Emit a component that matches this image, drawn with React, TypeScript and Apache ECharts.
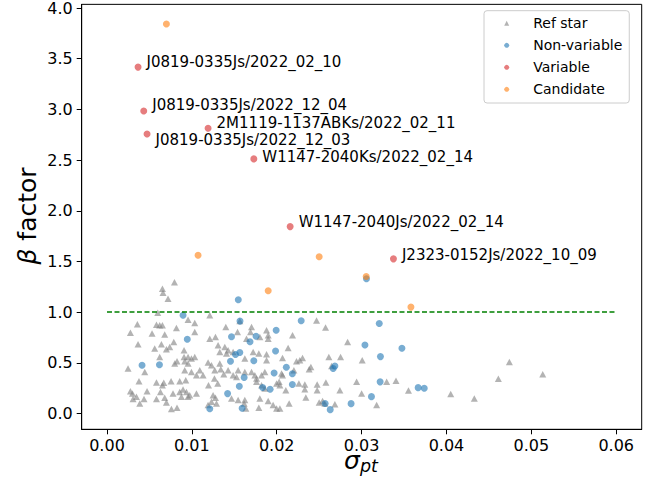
import React, { useEffect, useRef } from "react";
import * as echarts from "echarts";

// Tick positions shown on each axis
const xTicks = [0, 0.01, 0.02, 0.03, 0.04, 0.05, 0.06];
const yTicks = [0, 0.5, 1.0, 1.5, 2.0, 2.5, 3.0, 3.5, 4.0];

// Reference stars: [sigma_pt, beta]
const refStars: number[][] = [
  [0.00795, 1.296], [0.00653, 1.231], [0.0066, 1.192], [0.00719, 1.133], [0.00598, 0.995],
  [0.00358, 0.88], [0.00276, 0.798], [0.00583, 0.877], [0.00621, 0.87], [0.00653, 0.87],
  [0.00531, 0.789], [0.0068, 0.779], [0.00818, 0.844], [0.00366, 0.683], [0.00562, 0.641],
  [0.00641, 0.683], [0.007, 0.634], [0.00739, 0.657], [0.00787, 0.706], [0.00908, 0.624],
  [0.00621, 0.559], [0.00798, 0.494], [0.00825, 0.516], [0.00908, 0.559], [0.00916, 0.516],
  [0.00248, 0.444], [0.00445, 0.411], [0.00916, 0.428], [0.00377, 0.32], [0.00583, 0.307],
  [0.00669, 0.303], [0.00653, 0.28], [0.00755, 0.32], [0.00857, 0.32], [0.00928, 0.329],
  [0.00276, 0.221], [0.003, 0.199], [0.00307, 0.143], [0.00347, 0.165], [0.00386, 0.1],
  [0.00436, 0.143], [0.00472, 0.221], [0.00583, 0.143], [0.0063, 0.214], [0.0068, 0.155],
  [0.007, 0.11], [0.00759, 0.044], [0.00825, 0.057], [0.00778, 0.199], [0.00857, 0.214],
  [0.00896, 0.238], [0.00936, 0.214], [0.00877, 0.165], [0.00955, 0.165],
  [0.01211, 0.969], [0.01034, 0.893], [0.00955, 0.926], [0.01034, 0.804], [0.014, 0.853],
  [0.01565, 0.912], [0.01703, 0.853], [0.01691, 0.804], [0.0188, 0.821], [0.01899, 0.772],
  [0.01899, 0.739], [0.01538, 0.804], [0.01211, 0.739], [0.01278, 0.755], [0.01309, 0.674],
  [0.01388, 0.657], [0.01427, 0.624], [0.01408, 0.592], [0.01486, 0.608], [0.01329, 0.608],
  [0.01644, 0.739], [0.01722, 0.608], [0.01789, 0.592], [0.0188, 0.585], [0.0188, 0.526],
  [0.00955, 0.559], [0.00995, 0.543], [0.01034, 0.559], [0.00955, 0.494], [0.01191, 0.503],
  [0.01231, 0.477], [0.01329, 0.494], [0.01341, 0.438], [0.01093, 0.428], [0.01132, 0.379],
  [0.00995, 0.411], [0.01054, 0.379], [0.01427, 0.428], [0.01486, 0.379], [0.01545, 0.428],
  [0.01624, 0.411], [0.01703, 0.411], [0.01742, 0.379], [0.01762, 0.346], [0.01821, 0.379],
  [0.02057, 0.395], [0.02028, 0.313], [0.00975, 0.182], [0.01054, 0.199], [0.0125, 0.182],
  [0.01278, 0.155], [0.01231, 0.116], [0.01467, 0.149], [0.01624, 0.133], [0.01616, 0.1],
  [0.01801, 0.149], [0.01789, 0.057], [0.01899, 0.123], [0.01957, 0.084], [0.01998, 0.051],
  [0.01191, 0.084], [0.01266, 0.346], [0.01305, 0.297], [0.01196, 0.28], [0.01526, 0.362],
  [0.0186, 0.411], [0.01998, 0.297], [0.01762, 0.313], [0.01821, 0.28], [0.0186, 0.248],
  [0.01636, 0.051], [0.01545, 0.133], [0.0129, 0.1], [0.01376, 0.388], [0.0127, 0.428],
  [0.01801, 0.755], [0.01624, 0.543],
  [0.02469, 0.919], [0.02575, 0.848], [0.02186, 0.772], [0.02134, 0.647], [0.02835, 0.706],
  [0.02068, 0.549], [0.02233, 0.516], [0.02272, 0.526], [0.02304, 0.549], [0.02614, 0.559],
  [0.02752, 0.559], [0.02402, 0.46], [0.02382, 0.438], [0.02646, 0.47], [0.03007, 0.526],
  [0.02068, 0.379], [0.02202, 0.428], [0.02037, 0.28], [0.02261, 0.297], [0.02331, 0.287],
  [0.02331, 0.241], [0.02107, 0.231], [0.02476, 0.287], [0.02476, 0.231], [0.02579, 0.307],
  [0.02744, 0.231], [0.02941, 0.313], [0.03, 0.199], [0.02343, 0.159], [0.02146, 0.1],
  [0.025, 0.11], [0.0254, 0.123], [0.02567, 0.1], [0.02685, 0.093], [0.03177, 0.084],
  [0.02037, 0.051],
  [0.03295, 0.313], [0.03405, 0.324], [0.03552, 0.228], [0.0405, 0.192], [0.04328, 0.149],
  [0.04611, 0.344], [0.04741, 0.509], [0.05134, 0.388],
];

// Targets judged non-variable
const nonVariable: number[][] = [
  [0.00413, 0.477], [0.00618, 0.482], [0.00896, 0.969], [0.00946, 0.733], [0.01547, 1.123],
  [0.01567, 0.912], [0.01467, 0.757], [0.01685, 0.708], [0.01756, 0.762], [0.01993, 0.821],
  [0.01986, 0.617], [0.01565, 0.602], [0.01514, 0.583], [0.01455, 0.516], [0.0173, 0.521],
  [0.01969, 0.401], [0.01616, 0.356], [0.01559, 0.27], [0.01834, 0.258], [0.01922, 0.24],
  [0.01421, 0.197], [0.01211, 0.047], [0.01592, 0.052], [0.02288, 0.916], [0.02113, 0.457],
  [0.02184, 0.393], [0.02184, 0.287], [0.0257, 0.1], [0.0263, 0.039], [0.02876, 0.098],
  [0.03116, 0.167], [0.03208, 0.888], [0.03039, 0.677], [0.03222, 0.562], [0.03475, 0.644],
  [0.03218, 0.313], [0.03666, 0.256], [0.03738, 0.249], [0.03057, 1.33], [0.02685, 0.47],
  [0.02665, 0.444],
];

// Variable targets and their names
const variablePoints: number[][] = [
  [0.00366, 3.417], [0.00433, 2.984], [0.00472, 2.758], [0.01191, 2.814],
  [0.0173, 2.512], [0.02158, 1.844], [0.03375, 1.526],
];
const variableNames = [
  "J0819-0335Js/2022_02_10",
  "J0819-0335Js/2022_12_04",
  "J0819-0335Js/2022_12_03",
  "2M1119-1137ABKs/2022_02_11",
  "W1147-2040Ks/2022_02_14",
  "W1147-2040Js/2022_02_14",
  "J2323-0152Js/2022_10_09",
];
// vertical nudge of each name relative to its point
const variableLabelDy = [-5, -6, 6, -5, -2, -5, -4];

// Candidate variables
const candidates: number[][] = [
  [0.007, 3.843], [0.01073, 1.561], [0.01899, 1.211], [0.025, 1.546],
  [0.03054, 1.352], [0.03581, 1.05],
];

const FONT = "DejaVu Sans";
const GRAY = "rgba(128,128,128,0.6)";
const BLUE = "rgba(31,119,180,0.6)";
const RED = "rgba(214,39,40,0.6)";
const ORANGE = "rgba(255,127,14,0.6)";

export default function App() {
  const ref = useRef<HTMLDivElement>(null);

  useEffect(() => {
    if (!ref.current) return;
    const chart = echarts.init(ref.current, null, { renderer: "svg" });

    const option: any = {
      animation: false,
      textStyle: { fontFamily: FONT },
      grid: {
        left: 81.7,
        right: 20.3,
        top: 3.3,
        bottom: 55.7,
        show: true,
        borderColor: "#000",
        borderWidth: 1,
        backgroundColor: "transparent",
      },
      legend: {
        orient: "vertical",
        left: 484,
        top: 10.7,
        itemWidth: 5,
        itemHeight: 5,
        itemGap: 6,
        symbolKeepAspect: true,
        padding: [4.6, 7, 5.7, 20.2],
        backgroundColor: "#fff",
        borderColor: "#cccccc",
        borderWidth: 1,
        borderRadius: 3,
        selectedMode: false,
        textStyle: {
          fontSize: 14,
          color: "#000",
          lineHeight: 16,
          fontFamily: FONT,
          padding: [0, 0, 0, 19],
        },
        data: [
          { name: "Ref star", icon: "triangle" },
          { name: "Non-variable", icon: "circle" },
          { name: "Variable", icon: "circle" },
          { name: "Candidate", icon: "circle" },
        ],
      },
      xAxis: {
        type: "value",
        min: -0.00298,
        max: 0.063,
        axisLine: { show: true, onZero: false, lineStyle: { color: "#000", width: 1 } },
        splitLine: { show: false },
        axisTick: { show: true, customValues: xTicks, length: 5, lineStyle: { color: "#000", width: 1 } },
        axisLabel: {
          customValues: xTicks,
          formatter: (v: number) => v.toFixed(2),
          fontSize: 16,
          lineHeight: 16,
          color: "#000",
          margin: 8,
          fontFamily: FONT,
        },
      },
      yAxis: {
        type: "value",
        min: -0.155,
        max: 4.036,
        axisLine: { show: true, onZero: false, lineStyle: { color: "#000", width: 1 } },
        splitLine: { show: false },
        axisTick: { show: true, customValues: yTicks, length: 5, lineStyle: { color: "#000", width: 1 } },
        axisLabel: {
          customValues: yTicks,
          formatter: (v: number) => v.toFixed(1),
          fontSize: 16,
          color: "#000",
          margin: 9,
          fontFamily: FONT,
        },
      },
      graphic: [
        {
          type: "text",
          x: 27.4,
          y: 216,
          rotation: Math.PI / 2,
          style: {
            text: "{b|β} factor",
            fontSize: 25,
            fontFamily: FONT,
            fill: "#000",
            align: "center",
            verticalAlign: "middle",
            rich: { b: { fontSize: 25, fontStyle: "italic", fontFamily: FONT } },
          },
        },
        {
          type: "text",
          x: 344,
          y: 460,
          style: {
            text: "σ",
            fontSize: 25,
            lineHeight: 12,
            fontStyle: "italic",
            fontFamily: FONT,
            fill: "#000",
            align: "left",
            verticalAlign: "middle",
          },
        },
        {
          type: "text",
          x: 360,
          y: 466,
          style: {
            text: "pt",
            fontSize: 17.5,
            lineHeight: 12,
            fontStyle: "italic",
            fontFamily: FONT,
            fill: "#000",
            align: "left",
            verticalAlign: "middle",
          },
        },
      ],
      series: [
        {
          name: "Ref star",
          type: "scatter",
          symbol: "triangle",
          symbolSize: [7, 6.5],
          itemStyle: { color: GRAY, opacity: 1 },
          emphasis: { disabled: true },
          data: refStars,
          markLine: {
            silent: true,
            symbol: "none",
            label: { show: false },
            lineStyle: { color: "#008000", type: [5, 2.5], width: 1.5 },
            data: [[{ coord: [0, 1] }, { coord: [0.06, 1] }]],
          },
        },
        {
          name: "Non-variable",
          type: "scatter",
          symbol: "circle",
          symbolSize: 7,
          itemStyle: { color: BLUE, opacity: 1 },
          emphasis: { disabled: true },
          data: nonVariable,
        },
        {
          name: "Variable",
          type: "scatter",
          symbol: "circle",
          symbolSize: 7,
          itemStyle: { color: RED, opacity: 1 },
          emphasis: { disabled: true },
          data: variablePoints.map((p, i) => ({
            value: p,
            label: {
              show: true,
              formatter: variableNames[i],
              position: "right",
              distance: 5,
              offset: [0, variableLabelDy[i]],
              fontSize: 15,
              color: "#000",
              fontFamily: FONT,
            },
          })),
        },
        {
          name: "Candidate",
          type: "scatter",
          symbol: "circle",
          symbolSize: 7,
          itemStyle: { color: ORANGE, opacity: 1 },
          emphasis: { disabled: true },
          data: candidates,
        },
      ],
    };

    chart.setOption(option);
    return () => chart.dispose();
  }, []);

  return (
    <div
      ref={ref}
      style={{ position: "fixed", left: 0, top: 0, width: 662, height: 485, background: "#fff" }}
    />
  );
}
